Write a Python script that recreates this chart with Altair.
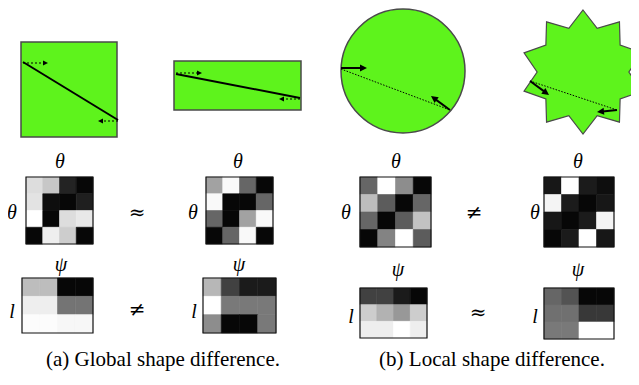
import altair as alt
import pandas as pd
import numpy as np

# ---------------- data ----------------
# grey levels of the histogram cells (0 = black, 255 = white), rows top -> bottom
theta_a_left = [[225, 205, 35, 5], [230, 10, 5, 30], [255, 5, 225, 235], [5, 240, 210, 5]]
theta_a_right = [[170, 250, 110, 5], [250, 5, 5, 110], [110, 5, 170, 250], [5, 110, 250, 5]]
theta_b_left = [[110, 255, 150, 5], [195, 100, 5, 110], [110, 5, 100, 200], [5, 140, 255, 100]]
theta_b_right = [[20, 255, 25, 10], [245, 25, 5, 20], [20, 5, 25, 245], [5, 25, 255, 20]]
psi_a_left = [[195, 195, 5, 5], [240, 240, 125, 125], [252, 252, 248, 248]]
psi_a_right = [[190, 70, 25, 25], [255, 130, 130, 130], [150, 5, 5, 130]]
psi_b_left = [[70, 70, 25, 5], [210, 185, 160, 210], [240, 240, 255, 240]]
psi_b_right = [[110, 90, 5, 5], [120, 120, 60, 60], [130, 130, 255, 255]]

heatmaps = [
    (theta_a_left, 26, 177, 67, 67),
    (theta_a_right, 206, 177, 67, 67),
    (theta_b_left, 360, 177, 71, 70),
    (theta_b_right, 544, 177, 70, 70),
    (psi_a_left, 22, 278, 71, 55),
    (psi_a_right, 203, 278, 73, 55),
    (psi_b_left, 360, 288, 67, 50),
    (psi_b_right, 544, 288, 70, 51),
]

math_labels = ["θ", "θ", "θ", "θ", "θ", "θ", "θ", "θ", "ψ", "ψ", "ψ", "ψ", "l", "l", "l", "l"]
math_x = [60, 238, 396, 578, 12, 193, 346, 535, 61, 239, 398, 578, 12, 194, 351, 535]
math_y = [162, 162, 162, 162, 213, 213, 213, 213, 265, 265, 270, 270, 312, 312, 317, 317]

rel_labels = ["≈", "≠", "≠", "≈"]
rel_x = [137, 474, 137, 478]
rel_y = [213, 213, 310, 313]

captions = ["(a) Global shape difference.", "(b) Local shape difference."]
cap_x = [163, 492]
cap_y = [360, 360]

# shapes
rect_shapes = [(21, 42, 117, 137), (174, 61, 301, 110)]
round_centers = [(403, 71), (583, 72)]
shape_radius = 62

# line segments: x1, y1, x2, y2, style, arrow head
segments = [
    (23, 62, 118, 120, "solid", False),
    (23, 63, 48, 63, "dashed", True),
    (118, 121, 98, 121, "dashed", True),
    (176, 74, 300, 98, "solid", False),
    (176, 73, 202, 73, "dashed", True),
    (300, 99, 279, 99, "dashed", True),
    (341, 69, 450, 110, "dotted", False),
    (341, 68, 367, 68, "arrow", True),
    (450, 110, 431, 96, "arrow", True),
    (530, 81, 617, 110, "dotted", False),
    (530, 81, 549, 95, "arrow", True),
    (617, 110, 597, 112, "arrow", True),
]

GREEN = "#5ef31c"
EDGE = "#4a4a4a"
SERIF = "Liberation Serif"

X = alt.Scale(domain=[8, 631], nice=False, zero=False)
Y = alt.Scale(domain=[8, 377], nice=False, zero=False, reverse=True)


def xq(f):
    return alt.X(f, type="quantitative", scale=X, axis=None)


def yq(f):
    return alt.Y(f, type="quantitative", scale=Y, axis=None)


# ---------------- tables ----------------
cells, frames = [], []
for vals, x0, y0, w, h in heatmaps:
    nr, nc = len(vals), len(vals[0])
    cw, ch = w / nc, h / nr
    for i in range(nr):
        for j in range(nc):
            cells.append(dict(x=x0 + j * cw, x2=x0 + (j + 1) * cw,
                              y=y0 + i * ch, y2=y0 + (i + 1) * ch, g=vals[i][j]))
    frames.append(dict(x=x0, x2=x0 + w, y=y0, y2=y0 + h))
cells = pd.DataFrame(cells)
frames = pd.DataFrame(frames)

rects = pd.DataFrame([dict(x=a, y=b, x2=c, y2=d) for a, b, c, d in rect_shapes])
circ = pd.DataFrame([dict(x=round_centers[0][0], y=round_centers[0][1])])
star = pd.DataFrame([dict(x=round_centers[1][0], y=round_centers[1][1])])

ang = np.deg2rad(-90 + np.arange(20) * 18)
rad = np.where(np.arange(20) % 2 == 0, 1.0, 0.74)
star_path = "M" + "L".join(f"{r * np.cos(a):.4f},{r * np.sin(a):.4f}" for r, a in zip(rad, ang)) + "Z"

seg_rows, head_rows = [], []
for x1, y1, x2, y2, style, head in segments:
    dx, dy = x2 - x1, y2 - y1
    L = np.hypot(dx, dy)
    hl = 7.0 if style == "arrow" else 5.0
    ex, ey = x2, y2
    if head:
        ex, ey = x2 - dx / L * hl * 0.8, y2 - dy / L * hl * 0.8
        a = (np.degrees(np.arctan2(dx, -dy)) + 360) % 360
        head_rows.append(dict(x=x2, y=y2, a=a, size=(2 * hl) ** 2))
    seg_rows.append(dict(x=x1, y=y1, x2=ex, y2=ey, style=style))
segs = pd.DataFrame(seg_rows)
heads = pd.DataFrame(head_rows)

texts = pd.DataFrame(dict(t=math_labels, x=math_x, y=math_y))
rels = pd.DataFrame(dict(t=rel_labels, x=rel_x, y=rel_y))
caps = pd.DataFrame(dict(t=captions, x=cap_x, y=cap_y))

# ---------------- layers ----------------
layers = []
layers.append(alt.Chart(rects).mark_rect(fill=GREEN, stroke=EDGE, strokeWidth=1.5).encode(
    x=xq("x"), x2="x2", y=yq("y"), y2="y2"))
layers.append(alt.Chart(circ).mark_point(shape="circle", filled=True, fill=GREEN, stroke=EDGE,
                                         strokeWidth=1.5, opacity=1,
                                         size=(2 * shape_radius) ** 2).encode(x=xq("x"), y=yq("y")))
layers.append(alt.Chart(star).mark_point(shape=star_path, filled=True, fill=GREEN, stroke=EDGE,
                                         strokeWidth=1.2, opacity=1,
                                         size=(2 * shape_radius) ** 2).encode(x=xq("x"), y=yq("y")))

styles = {"solid": dict(strokeWidth=2.0), "arrow": dict(strokeWidth=2.0),
          "dashed": dict(strokeWidth=1.2, strokeDash=[2, 2]),
          "dotted": dict(strokeWidth=1.0, strokeDash=[1.5, 1.5])}
for st, kw in styles.items():
    sub = segs[segs["style"] == st]
    if len(sub):
        layers.append(alt.Chart(sub).mark_rule(color="black", **kw).encode(
            x=xq("x"), y=yq("y"), x2="x2", y2="y2"))
layers.append(alt.Chart(heads).mark_point(shape="M0,0L-0.5,1L0.5,1Z", filled=True, color="black",
                                          opacity=1).encode(
    x=xq("x"), y=yq("y"), angle=alt.Angle("a:Q", scale=None), size=alt.Size("size:Q", scale=None)))

gray = alt.Scale(domain=[0, 255], range=["#000000", "#ffffff"])
layers.append(alt.Chart(cells).mark_rect(strokeWidth=0.6).encode(
    x=xq("x"), x2="x2", y=yq("y"), y2="y2",
    color=alt.Color("g:Q", scale=gray, legend=None),
    stroke=alt.Stroke("g:Q", scale=gray, legend=None)))
layers.append(alt.Chart(frames).mark_rect(fillOpacity=0, stroke="#111111", strokeWidth=1.2).encode(
    x=xq("x"), x2="x2", y=yq("y"), y2="y2"))

layers.append(alt.Chart(texts).mark_text(font=SERIF, fontStyle="italic", fontSize=20,
                                         align="center", baseline="middle", color="black").encode(
    x=xq("x"), y=yq("y"), text="t"))
layers.append(alt.Chart(rels).mark_text(font="DejaVu Serif", fontSize=20,
                                        align="center", baseline="middle", color="black").encode(
    x=xq("x"), y=yq("y"), text="t"))
layers.append(alt.Chart(caps).mark_text(font=SERIF, fontSize=21,
                                        align="center", baseline="middle", color="black").encode(
    x=xq("x"), y=yq("y"), text="t"))

chart = alt.layer(*layers).properties(
    width=623, height=369, padding=0, autosize=alt.AutoSizeParams(type="none")
).configure_view(stroke=None)
chart.save("out.html", embed_options={"renderer": "svg", "actions": False})
